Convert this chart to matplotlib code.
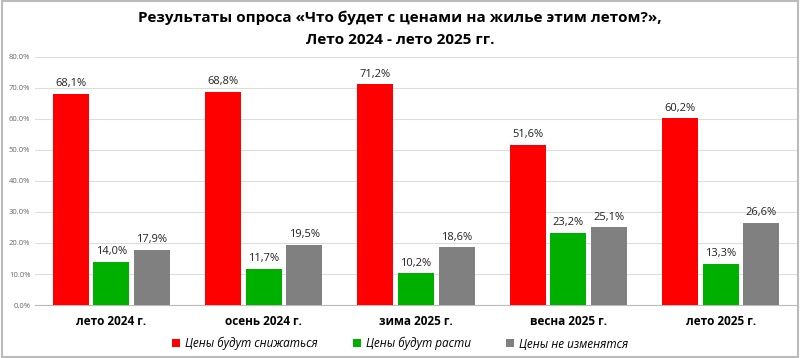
import matplotlib.pyplot as plt
import numpy as np

categories = ['лето 2024 г.', 'осень 2024 г.', 'зима 2025 г.', 'весна 2025 г.', 'лето 2025 г.']
series_names = ['Цены будут снижаться', 'Цены будут расти', 'Цены не изменятся']
down = [68.1, 68.8, 71.2, 51.6, 60.2]
up = [14.0, 11.7, 10.2, 23.2, 13.3]
same = [17.9, 19.5, 18.6, 25.1, 26.6]
colors = ['#ff0000', '#00b000', '#808080']

plt.rcParams['font.family'] = ['Open Sans', 'DejaVu Sans']

fig = plt.figure(figsize=(8, 3.58), dpi=100)
ax = fig.add_axes([0.044, 0.148, 0.952, 0.693])

x = np.arange(len(categories))
w = 0.237
step = 0.267
for i, (vals, name, c) in enumerate(zip([down, up, same], series_names, colors)):
    pos = x + (i - 1) * step
    ax.bar(pos, vals, width=w, color=c, label=name, zorder=3)
    for p, v in zip(pos, vals):
        ax.text(p, v + 1.5, f'{v:.1f}%'.replace('.', ','), ha='center', va='bottom',
                fontsize=8, color='#222222')

ax.set_xlim(-0.5, len(categories) - 0.5)
ax.set_ylim(0, 80)
ax.set_yticks(np.arange(0, 81, 10))
ax.set_yticklabels([f'{t:.1f}%' for t in np.arange(0, 81, 10)], fontsize=5.5, color='#666666')
ax.set_xticks(x)
ax.set_xticklabels(categories, fontsize=8.5, fontweight='bold')
ax.tick_params(axis='both', length=0)
ax.tick_params(axis='x', pad=7)
ax.grid(axis='y', color='#dddddd', linewidth=0.8, zorder=0)
for s in ['top', 'right', 'left']:
    ax.spines[s].set_visible(False)
ax.spines['bottom'].set_color('#bbbbbb')

fig.text(0.5, 0.97, 'Результаты опроса «Что будет с ценами на жилье этим летом?»,\nЛето 2024 - лето 2025 гг.',
         ha='center', va='top', fontsize=11, fontweight='bold', linespacing=1.75)

leg = fig.legend(loc='center', bbox_to_anchor=(0.5, 0.04), ncol=3, frameon=False,
                 prop={'style': 'italic', 'size': 8.5}, handlelength=0.7, handleheight=0.7,
                 columnspacing=3.0, handletextpad=0.4)

fig.patches.append(plt.Rectangle((0.002, 0.003), 0.996, 0.994, transform=fig.transFigure,
                                 fill=False, edgecolor='#bbbbbb', linewidth=1.5))

fig.savefig('out.png', dpi=100)
